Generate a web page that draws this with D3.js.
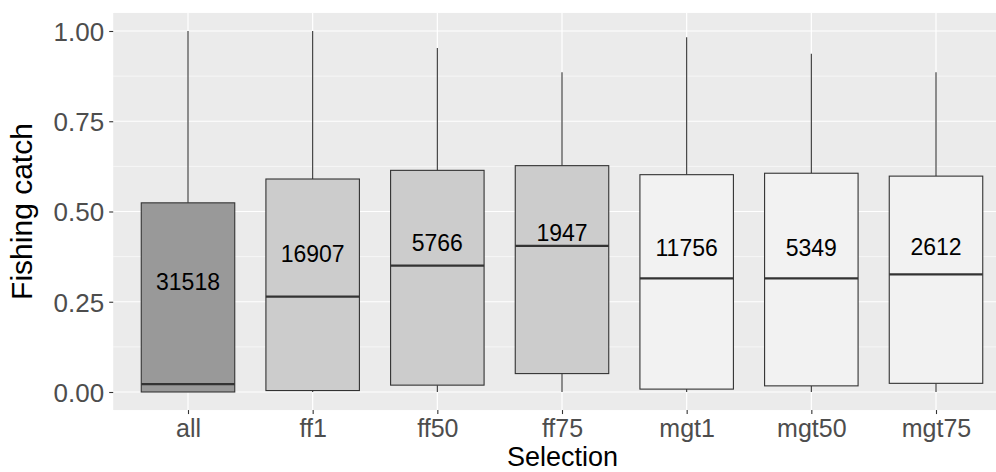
<!DOCTYPE html>
<html>
<head>
<meta charset="utf-8">
<script src="https://cdn.jsdelivr.net/npm/d3@7"></script>
<style>
  body { margin: 0; background: #fff; }
  svg { display: block; font-family: "Liberation Sans", Arial, sans-serif; }
</style>
</head>
<body>
<div id="chart-container"></div>
<script>
"use strict"

// data
const categories = ["all", "ff1", "ff50", "ff75", "mgt1", "mgt50", "mgt75"];
const whiskerLow  = [0.000, 0.000, 0.000, 0.000, 0.000, 0.000, 0.000];
const q1          = [0.000, 0.004, 0.019, 0.051, 0.008, 0.017, 0.024];
const medians     = [0.022, 0.264, 0.350, 0.405, 0.315, 0.315, 0.326];
const q3          = [0.524, 0.590, 0.614, 0.627, 0.602, 0.606, 0.598];
const whiskerHigh = [1.000, 1.000, 0.953, 0.886, 0.983, 0.937, 0.886];
const counts      = ["31518", "16907", "5766", "1947", "11756", "5349", "2612"];
const labelY      = [0.305, 0.382, 0.414, 0.440, 0.399, 0.401, 0.402];
const groups      = ["a", "b", "b", "b", "c", "c", "c"];
const yTicks      = [0, 0.25, 0.5, 0.75, 1];
const yMinor      = [0.125, 0.375, 0.625, 0.875];

document.addEventListener('DOMContentLoaded', function(){
  drawChart();
});

function drawChart(){
  let svgWidth = 996;
  let svgHeight = 472;

  let dataset = categories.map((c, i) => ({
    cat: c, lo: whiskerLow[i], q1: q1[i], med: medians[i], q3: q3[i],
    hi: whiskerHigh[i], n: counts[i], ly: labelY[i], grp: groups[i]
  }));

  const svg = d3.select('#chart-container')
    .append('svg')
    .attr('width', svgWidth)
    .attr('height', svgHeight);

  /***************************************
   SCALES
  ***************************************/
  let xScale = d3.scalePoint()
    .domain(categories)
    .range([188, 936]);
  let step = xScale.step();
  let panelLeft = xScale(categories[0]) - 0.6 * step;

  let yScale = d3.scaleLinear()
    .domain([-0.05, 1.05])
    .range([410.05, 12.95]);

  let fill = d3.scaleOrdinal()
    .domain(["a", "b", "c"])
    .range(["#999999", "#CCCCCC", "#F2F2F2"]);

  // panel
  svg.append('rect')
    .attr('x', panelLeft)
    .attr('y', yScale(1.05))
    .attr('width', svgWidth - panelLeft)
    .attr('height', yScale(-0.05) - yScale(1.05))
    .attr('fill', '#EBEBEB');

  // grid
  svg.append('g').selectAll('line')
    .data(yMinor).enter().append('line')
    .attr('x1', panelLeft).attr('x2', svgWidth)
    .attr('y1', d => yScale(d)).attr('y2', d => yScale(d))
    .attr('stroke', '#fff').attr('stroke-width', 0.6);

  svg.append('g').selectAll('line')
    .data(yTicks).enter().append('line')
    .attr('x1', panelLeft).attr('x2', svgWidth)
    .attr('y1', d => yScale(d)).attr('y2', d => yScale(d))
    .attr('stroke', '#fff').attr('stroke-width', 1.2);

  svg.append('g').selectAll('line')
    .data(categories).enter().append('line')
    .attr('x1', d => xScale(d)).attr('x2', d => xScale(d))
    .attr('y1', yScale(1.05)).attr('y2', yScale(-0.05))
    .attr('stroke', '#fff').attr('stroke-width', 1.2);

  /***************************************
   AXES
  ***************************************/
  const yAxis = d3.axisLeft(yScale)
    .tickValues(yTicks)
    .tickFormat(d3.format('.2f'))
    .tickSize(4)
    .tickPadding(5);

  const gy = svg.append('g')
    .attr('transform', 'translate(' + panelLeft + ',0)')
    .call(yAxis);
  gy.select('.domain').remove();
  gy.selectAll('line').attr('stroke', '#333333').attr('stroke-width', 1.1);
  gy.selectAll('text')
    .attr('fill', '#4D4D4D')
    .attr('font-size', '26px')
    .attr('dy', '0.36em');

  const xAxis = d3.axisBottom(xScale)
    .tickSize(4)
    .tickPadding(5);

  const gx = svg.append('g')
    .attr('transform', 'translate(0,' + yScale(-0.05) + ')')
    .call(xAxis);
  gx.select('.domain').remove();
  gx.selectAll('line').attr('stroke', '#333333').attr('stroke-width', 1.1);
  gx.selectAll('text')
    .attr('fill', '#4D4D4D')
    .attr('font-size', '25px')
    .attr('dy', '0.71em');

  // axis titles
  svg.append('text')
    .attr('transform', 'translate(32,' + (yScale(0.5)) + ') rotate(-90)')
    .attr('text-anchor', 'middle')
    .attr('font-size', '30px')
    .attr('fill', '#000')
    .text('Fishing catch');

  svg.append('text')
    .attr('x', (panelLeft + svgWidth) / 2 + 8)
    .attr('y', 466)
    .attr('text-anchor', 'middle')
    .attr('font-size', '27px')
    .attr('fill', '#000')
    .text('Selection');

  /***************************************
   BOXES
  ***************************************/
  let boxW = step * 0.75;
  let boxes = svg.append('g').selectAll('g')
    .data(dataset).enter().append('g');

  boxes.append('line')
    .attr('x1', d => xScale(d.cat)).attr('x2', d => xScale(d.cat))
    .attr('y1', d => yScale(d.q3)).attr('y2', d => yScale(d.hi))
    .attr('stroke', '#333333').attr('stroke-width', 1.1);

  boxes.append('line')
    .attr('x1', d => xScale(d.cat)).attr('x2', d => xScale(d.cat))
    .attr('y1', d => yScale(d.q1)).attr('y2', d => yScale(d.lo))
    .attr('stroke', '#333333').attr('stroke-width', 1.1);

  boxes.append('rect')
    .attr('x', d => xScale(d.cat) - boxW / 2)
    .attr('y', d => yScale(d.q3))
    .attr('width', boxW)
    .attr('height', d => yScale(d.q1) - yScale(d.q3))
    .attr('fill', d => fill(d.grp))
    .attr('stroke', '#333333')
    .attr('stroke-width', 1.1);

  boxes.append('line')
    .attr('x1', d => xScale(d.cat) - boxW / 2).attr('x2', d => xScale(d.cat) + boxW / 2)
    .attr('y1', d => yScale(d.med)).attr('y2', d => yScale(d.med))
    .attr('stroke', '#333333').attr('stroke-width', 2.3);

  boxes.append('text')
    .attr('x', d => xScale(d.cat))
    .attr('y', d => yScale(d.ly))
    .attr('dy', '0.36em')
    .attr('text-anchor', 'middle')
    .attr('font-size', '23px')
    .attr('fill', '#000')
    .text(d => d.n);
}
</script>
</body>
</html>
